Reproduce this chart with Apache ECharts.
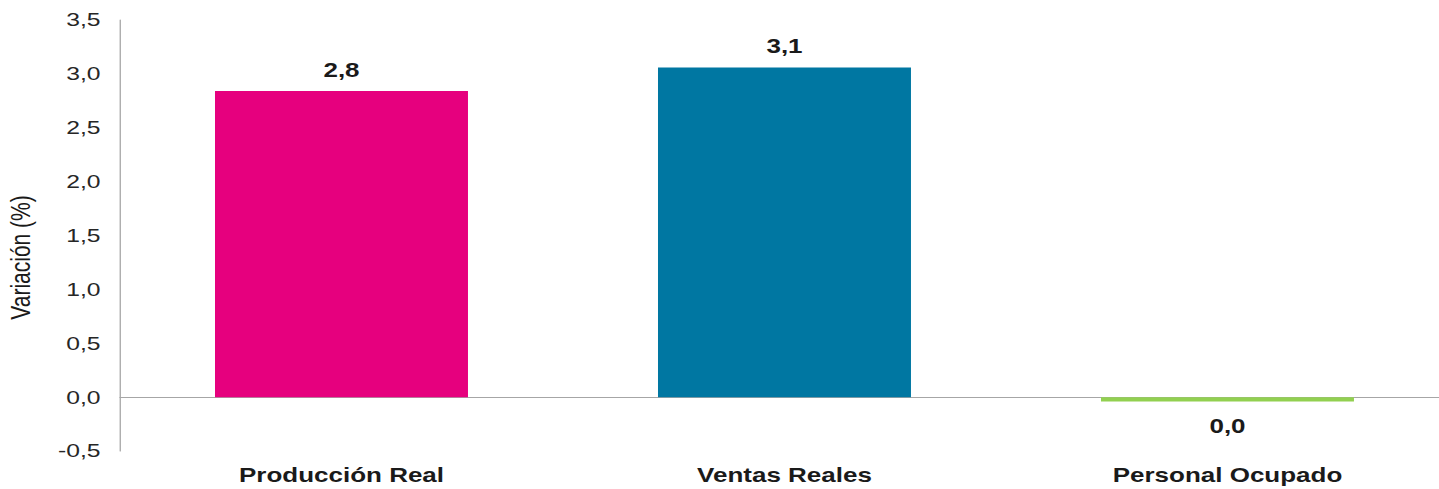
<!DOCTYPE html>
<html>
<head>
<meta charset="utf-8">
<script src="https://cdn.jsdelivr.net/npm/echarts@6/dist/echarts.min.js"></script>
<style>
html,body{margin:0;padding:0;background:#fff;overflow:hidden;}
#c{width:1120px;height:489px;transform:scaleX(1.3);transform-origin:0 0;}
</style>
</head>
<body>
<div id="c"></div>
<script>
var categories = ['Producción Real', 'Ventas Reales', 'Personal Ocupado'];
var values = [2.84, 3.06, -0.04];
var colors = ['#E6007E', '#0077A2', '#92D050'];
var yTicks = { min: -0.5, max: 3.5, interval: 0.5 };

function fmt(v) {
  var s = (Math.round(v * 10) / 10).toFixed(1);
  if (s === '-0.0') s = '0.0';
  return s.replace('.', ',');
}

var chart = echarts.init(document.getElementById('c'), null, { renderer: 'svg' });
chart.setOption({
  animation: false,
  textStyle: { fontFamily: 'Liberation Sans, Arial, sans-serif' },
  grid: { left: 92.3, right: 5.4, top: 20, bottom: 38, containLabel: false, outerBoundsMode: 'none' },
  xAxis: [{
    type: 'category',
    data: categories,
    axisLine: { show: false, onZero: false },
    axisTick: { show: false },
    axisLabel: { margin: 14, fontSize: 20, fontWeight: 'bold', color: '#1a1a1a' }
  }, {
    type: 'category',
    data: categories,
    position: 'bottom',
    axisLine: { show: true, onZero: true, lineStyle: { color: '#a6a6a6', width: 1 } },
    axisTick: { show: false },
    axisLabel: { show: false },
    splitLine: { show: false }
  }],
  yAxis: {
    type: 'value',
    min: yTicks.min, max: yTicks.max, interval: yTicks.interval,
    name: 'Variación (%)',
    nameLocation: 'middle',
    nameGap: 66,
    nameTextStyle: { fontSize: 21, color: '#1a1a1a', padding: [0, 44, 0, 0] },
    axisLine: { show: true, lineStyle: { color: '#a6a6a6', width: 1 } },
    axisTick: { show: false },
    splitLine: { show: false },
    axisLabel: { fontSize: 19, color: '#262626', margin: 15, formatter: fmt }
  },
  series: [{
    type: 'bar',
    xAxisIndex: 0,
    barWidth: 194.6,
    z: 1,
    data: values.map(function (v, i) {
      return {
        value: v,
        itemStyle: { color: colors[i] },
        label: { position: v < 0 ? 'bottom' : 'top', distance: v < 0 ? 15 : 11 }
      };
    }),
    label: {
      show: true,
      fontSize: 20,
      fontWeight: 'bold',
      color: '#1a1a1a',
      formatter: function (p) { return fmt(p.value); }
    }
  }]
});
</script>
</body>
</html>
